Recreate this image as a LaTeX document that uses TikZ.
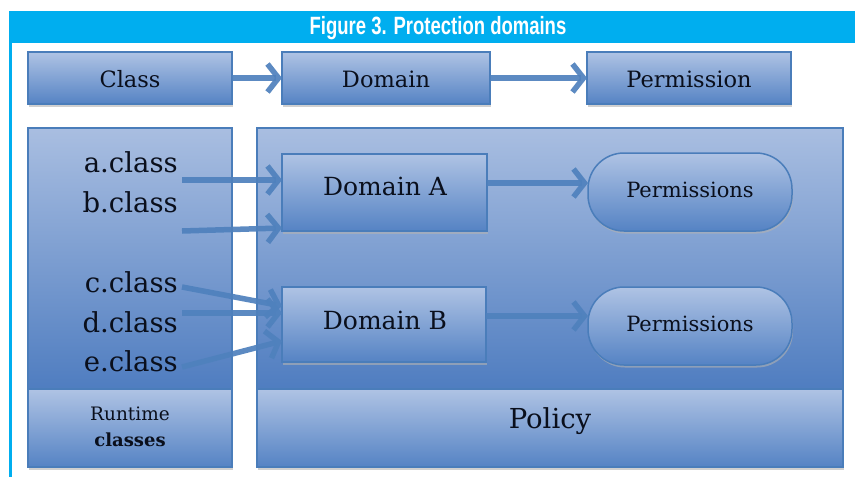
\documentclass[tikz,border=0pt]{standalone}
\usepackage{fontspec}
\setmainfont{DejaVu Serif}
\newfontfamily\titlefont{Liberation Sans}
\usetikzlibrary{arrows.meta,shadows}
\definecolor{cyanbar}{HTML}{00AEEF}
\definecolor{boxtop}{HTML}{AFC3E4}
\definecolor{boxbot}{HTML}{5583C4}
\definecolor{bigtop}{HTML}{A9BEE1}
\definecolor{bigbot}{HTML}{4F7DC0}
\definecolor{edgeblue}{HTML}{4A7DBA}
\definecolor{arrowblue}{HTML}{4F81BD}
\definecolor{inktext}{HTML}{0A0F1C}
\tikzset{
  fs/.style={font=\fontsize{#1}{#1}\selectfont},
  gbox/.style={draw=edgeblue, line width=1.5pt, top color=boxtop, bottom color=boxbot,
     drop shadow={shadow xshift=1pt, shadow yshift=-2.5pt, fill=gray!60, opacity=0.6}},
  bigbox/.style={draw=edgeblue, line width=1.5pt, top color=bigtop, bottom color=bigbot},
  pill/.style={gbox, rounded corners=36pt},
  lbl/.style={text=inktext, inner sep=0pt},
  fat/.style={draw=arrowblue, line width=5.5pt, opacity=0.92,
     -{Straight Barb[length=11pt,width=28pt,line width=5.5pt]}},
}
\begin{document}
\begin{tikzpicture}[x=1pt,y=-1pt]
\useasboundingbox (0,0) rectangle (855,477);
\fill[white] (0,0) rectangle (855,477);
% frame
\fill[cyanbar] (9,11) rectangle (855,43);
\fill[cyanbar] (9,43) rectangle (11.5,477);
\node[text=white, inner sep=0pt] (title) at (438,28)
  {\titlefont\bfseries\fontsize{25}{25}\selectfont\scalebox{0.74}[1]{Figure 3. Protection domains}};
% top row
\path[gbox] (28,52) rectangle (232,104);
\path[gbox] (282,52) rectangle (490,104);
\path[gbox] (587,52) rectangle (791,104);
\node[lbl, fs=22.5] (cls) at (130,79) {Class};
\node[lbl, fs=22.5] (dom) at (386,79) {Domain};
\node[lbl, fs=22.5] (perm) at (689,79) {Permission};
\coordinate (clsE) at (232,78);
\coordinate (domW) at (282,78);
\coordinate (domE) at (490,78);
\coordinate (permW) at (587,78);
% big containers
\path[bigbox] (28,128) rectangle (232,389);
\path[gbox] (28,389) rectangle (232,467);
\path[bigbox] (257,128) rectangle (843,389);
\path[gbox] (257,389) rectangle (843,467);
\node[lbl, fs=18.5] (rt) at (130,414) {Runtime};
\node[lbl, fs=18] (rc) at (130,440) {\bfseries classes};
\node[lbl, fs=27.5] (pol) at (550,421) {Policy};
% class names
\node[lbl, fs=27.5, anchor=east] (ac) at (178,162) {a.class};
\node[lbl, fs=27.5, anchor=east] (bc) at (178,202) {b.class};
\node[lbl, fs=27.5, anchor=east] (cc) at (178,282) {c.class};
\node[lbl, fs=27.5, anchor=east] (dc) at (178,322) {d.class};
\node[lbl, fs=27.5, anchor=east] (ec) at (178,361) {e.class};
% domains
\path[gbox] (282,154) rectangle (487,231);
\path[gbox] (282,287) rectangle (486,362);
\node[lbl, fs=25] (domA) at (385,186) {Domain A};
\node[lbl, fs=25] (domB) at (385,320) {Domain B};
\path[pill] (588,153) rectangle (792,231);
\path[pill] (588,287) rectangle (792,365);
\node[lbl, fs=21] (pA) at (690,190) {Permissions};
\node[lbl, fs=21] (pB) at (690,324) {Permissions};
% anchor points for connectors
\coordinate (a1) at (182,180);  \coordinate (A1) at (282,180);
\coordinate (a2) at (182,231);  \coordinate (A2) at (282,228);
\coordinate (c1) at (182,287);  \coordinate (B1) at (282,306);
\coordinate (d1) at (182,313);  \coordinate (B2) at (282,313);
\coordinate (e1) at (182,367);  \coordinate (B3) at (282,341);
\coordinate (dAE) at (487,183); \coordinate (pAW) at (588,183);
\coordinate (dBE) at (486,316); \coordinate (pBW) at (588,316);
% connectors
\draw[fat] (clsE) -- (domW);
\draw[fat] (domE) -- (permW);
\draw[fat] (a1) -- (A1);
\draw[fat] (a2) -- (A2);
\draw[fat] (c1) -- (B1);
\draw[fat] (d1) -- (B2);
\draw[fat] (e1) -- (B3);
\draw[fat] (dAE) -- (pAW);
\draw[fat] (dBE) -- (pBW);
\end{tikzpicture}
\end{document}
